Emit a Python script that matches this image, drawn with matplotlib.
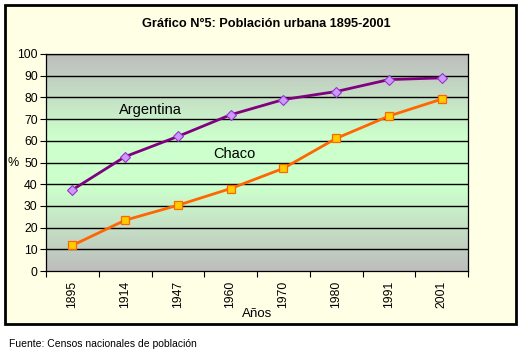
import matplotlib
matplotlib.use("Agg")
import matplotlib.pyplot as plt
import numpy as np
from matplotlib.colors import LinearSegmentedColormap
from matplotlib.patches import Rectangle

years = ["1895", "1914", "1947", "1960", "1970", "1980", "1991", "2001"]
argentina = [37.4, 52.7, 62.0, 72.0, 79.0, 82.7, 88.2, 89.0]
chaco = [11.8, 23.4, 30.3, 38.0, 47.3, 61.1, 71.4, 79.2]
yticks = list(range(0, 101, 10))

plt.rcParams['font.family'] = ['Liberation Sans', 'DejaVu Sans']

fig = plt.figure(figsize=(5.28, 3.56), dpi=100)
fig.patch.set_facecolor("white")

# chart box
W, H = 528, 356
box = Rectangle((5 / W, 1 - 324 / H), (516 - 5) / W, (324 - 5) / H,
                transform=fig.transFigure, facecolor="#ffffe6",
                edgecolor="black", linewidth=2, zorder=-5)
fig.patches.append(box)

ax = fig.add_axes([46 / W, 1 - 271 / H, (468 - 46) / W, (271 - 54) / H])
ax.set_zorder(1)
ax.set_facecolor("none")

x = np.arange(len(years))
ax.set_xlim(-0.5, len(years) - 0.5)
ax.set_ylim(0, 100)

# gradient background
cmap = LinearSegmentedColormap.from_list(
    "bg", [(0, "#bdbdbd"), (0.38, "#ccffcc"), (0.62, "#ccffcc"), (1, "#bdbdbd")])
grad = np.linspace(0, 1, 256).reshape(-1, 1)
ax.imshow(grad, aspect="auto", cmap=cmap, origin="lower",
          extent=[-0.5, len(years) - 0.5, 0, 100], zorder=0)

for y in yticks[1:]:
    ax.axhline(y, color="black", linewidth=1.0, zorder=1)

ax.plot(x, argentina, color="#800080", linewidth=2, marker="D", markersize=5,
        markerfacecolor="#cc99ff", markeredgecolor="#9933cc", markeredgewidth=0.8, zorder=3)
ax.plot(x, chaco, color="#ff6600", linewidth=2, marker="s", markersize=5.5,
        markerfacecolor="#ffcc00", markeredgecolor="#ff6600", markeredgewidth=0.9, zorder=3)

ax.text(1.47, 74, "Argentina", fontsize=10.5, color="black", ha="center", va="center")
ax.text(3.08, 53.8, "Chaco", fontsize=10.5, color="black", ha="center", va="center")

ax.set_yticks(yticks)
ax.set_yticklabels([str(v) for v in yticks], fontsize=8.8)
ax.set_xticks(np.arange(len(years) + 1) - 0.5, minor=False)
ax.set_xticklabels([])
ax.set_xticks(x, minor=True)
ax.set_xticklabels(years, minor=True, rotation=90, fontsize=8.8)
ax.tick_params(axis="x", which="major", length=4, direction="out", color="black")
ax.tick_params(axis="x", which="minor", length=0, pad=7)
ax.tick_params(axis="y", length=4, direction="out", pad=2)

for s in ax.spines.values():
    s.set_color("black")
    s.set_linewidth(0.9)

ax.set_xlabel("Años", fontsize=9.5, labelpad=0)
ax.set_ylabel("%", fontsize=9, rotation=0, labelpad=3, va="center")

fig.text(266 / W, 1 - 24 / H, "Gráfico N°5: Población urbana 1895-2001",
         ha="center", va="center", fontsize=9.2, fontweight="bold")
fig.text(9 / W, 1 - 344 / H, "Fuente: Censos nacionales de población",
         ha="left", va="center", fontsize=7.5)

fig.savefig("out.png", dpi=100)
